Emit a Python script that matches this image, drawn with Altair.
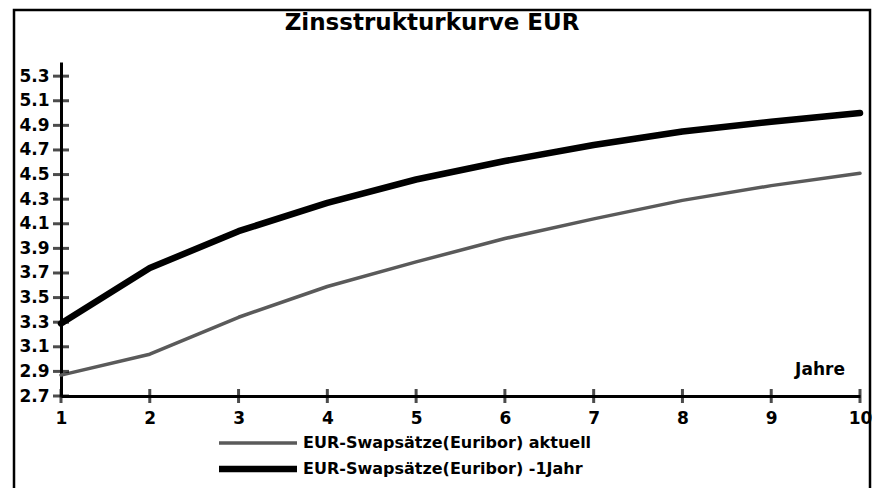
import altair as alt
import pandas as pd

# ---- data ----
years = [1, 2, 3, 4, 5, 6, 7, 8, 9, 10]
aktuell = [2.87, 3.04, 3.34, 3.59, 3.79, 3.98, 4.14, 4.29, 4.41, 4.51]
vorjahr = [3.29, 3.74, 4.04, 4.27, 4.46, 4.61, 4.74, 4.85, 4.93, 5.00]
series_names = ["EUR-Swapsätze(Euribor) aktuell", "EUR-Swapsätze(Euribor) -1Jahr"]
series_colors = ["#5a5a5a", "#000000"]
series_widths = [3.5, 6.5]
y_ticks = [2.7, 2.9, 3.1, 3.3, 3.5, 3.7, 3.9, 4.1, 4.3, 4.5, 4.7, 4.9, 5.1, 5.3]
x_ticks = years
title_text = "Zinsstrukturkurve EUR"
x_title = "Jahre"

FONT = "DejaVu Sans"
W, H = 799, 334

df = pd.DataFrame(
    {
        "Jahr": years * 2,
        "Satz": aktuell + vorjahr,
        "Serie": [series_names[0]] * len(years) + [series_names[1]] * len(years),
    }
)

x_scale = alt.Scale(domain=[1, 10], nice=False, zero=False)
y_scale = alt.Scale(domain=[2.7, 5.415], nice=False, zero=False)

x_axis = alt.Axis(
    values=x_ticks,
    format="d",
    title=None,
    grid=False,
    ticks=True,
    tickSize=0,
    domainColor="black",
    domainWidth=3,
    labelFont=FONT,
    labelFontSize=17,
    labelFontWeight="bold",
    labelColor="black",
    labelPadding=14,
    labelFlush=False,
)
y_axis = alt.Axis(
    values=y_ticks,
    format=".1f",
    title=None,
    grid=False,
    ticks=True,
    tickSize=0,
    domainColor="black",
    domainWidth=3,
    labelFont=FONT,
    labelFontSize=17,
    labelFontWeight="bold",
    labelColor="black",
    labelPadding=12,
    labelFlush=False,
)

lines = alt.Chart(df).mark_line(strokeCap="round", strokeJoin="round").encode(
    x=alt.X("Jahr:Q", scale=x_scale, axis=x_axis),
    y=alt.Y("Satz:Q", scale=y_scale, axis=y_axis),
    color=alt.Color(
        "Serie:N",
        scale=alt.Scale(domain=series_names, range=series_colors),
        legend=None,
    ),
    strokeWidth=alt.StrokeWidth(
        "Serie:N",
        scale=alt.Scale(domain=series_names, range=series_widths),
        legend=None,
    ),
)

ytick_df = pd.DataFrame({"Satz": y_ticks})
xtick_df = pd.DataFrame({"Jahr": x_ticks})

y_tick_marks = alt.Chart(ytick_df).mark_tick(
    orient="horizontal", color="black", size=16, thickness=3
).encode(y=alt.Y("Satz:Q", scale=y_scale, axis=y_axis), x=alt.value(0))

x_tick_marks = alt.Chart(xtick_df).mark_tick(
    orient="vertical", color="black", size=14, thickness=3
).encode(x=alt.X("Jahr:Q", scale=x_scale, axis=x_axis), y=alt.value(H))

frame = alt.Chart(pd.DataFrame({"a": [0]})).mark_rect(
    fill=None, stroke="black", strokeWidth=2.5
).encode(
    x=alt.value(-47), x2=alt.value(809), y=alt.value(-52), y2=alt.value(520)
)

title = alt.Chart(pd.DataFrame({"t": [title_text]})).mark_text(
    font=FONT, fontSize=23, fontWeight="bold", color="black",
    align="center", baseline="middle",
).encode(text="t:N", x=alt.value(371), y=alt.value(-39))

jahre = alt.Chart(pd.DataFrame({"t": [x_title]})).mark_text(
    font=FONT, fontSize=17, fontWeight="bold", color="black",
    align="center", baseline="middle",
).encode(text="t:N", x=alt.value(759), y=alt.value(308))

legend_layers = []
for i, name in enumerate(series_names):
    yy = 381 + 26 * i
    legend_layers.append(
        alt.Chart(pd.DataFrame({"t": [name]})).mark_rule(
            color=series_colors[i], strokeWidth=series_widths[i]
        ).encode(x=alt.value(158), x2=alt.value(236), y=alt.value(yy))
    )
    legend_layers.append(
        alt.Chart(pd.DataFrame({"t": [name]})).mark_text(
            font=FONT, fontSize=16, fontWeight="bold", color="black",
            align="left", baseline="middle",
        ).encode(text="t:N", x=alt.value(242), y=alt.value(yy))
    )

chart = alt.layer(
    frame, lines, y_tick_marks, x_tick_marks, title, jahre, *legend_layers
).properties(
    width=W,
    height=H,
    padding={"left": 53, "top": 54, "right": 18, "bottom": 92},
    autosize=alt.AutoSizeParams(type="none"),
    background="white",
).configure_view(stroke=None)

chart.save("out.html", embed_options={"renderer": "svg", "actions": False})
